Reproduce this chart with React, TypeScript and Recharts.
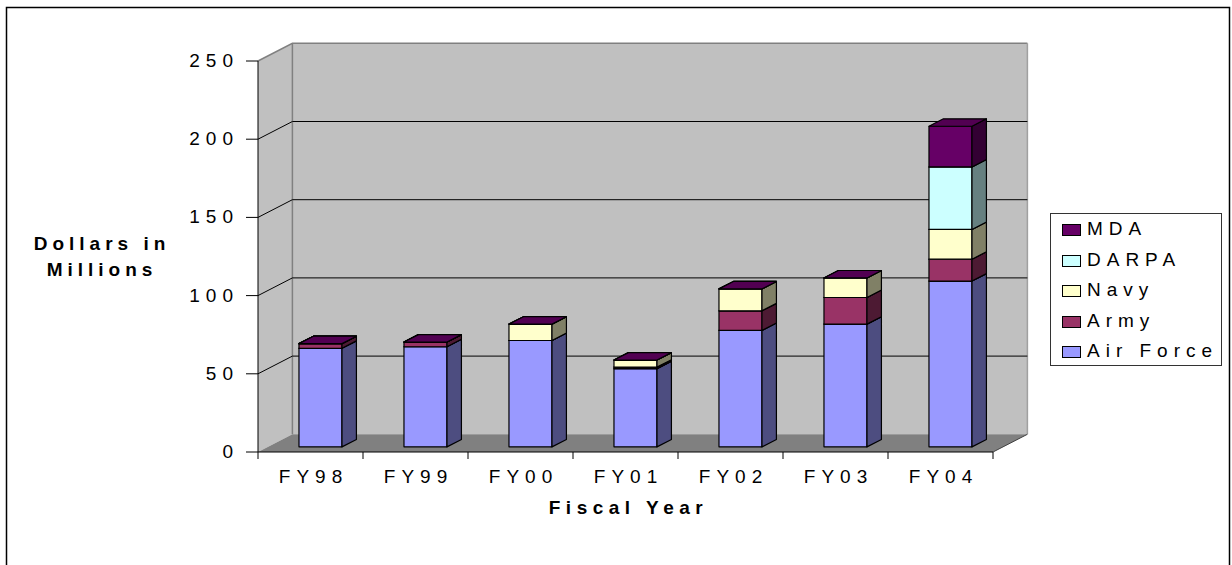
import React from 'react';
import { BarChart, Bar, XAxis, YAxis, CartesianGrid, Legend } from 'recharts';

const years = ['FY98', 'FY99', 'FY00', 'FY01', 'FY02', 'FY03', 'FY04'];
const airForce = [63, 64, 68, 50, 74.5, 78.5, 106];
const army = [3, 3, 0, 1, 12.5, 17, 14];
const navy = [0, 0, 10.5, 4.5, 14, 12.5, 19];
const darpa = [0, 0, 0, 0, 0, 0, 40];
const mda = [0, 0, 0, 0, 0, 0, 26];
const yTicks = [0, 50, 100, 150, 200, 250];

const data = years.map((year, i) => ({
  year,
  airForce: airForce[i],
  army: army[i],
  navy: navy[i],
  darpa: darpa[i],
  mda: mda[i],
}));

// chart frame (front plane of the 3d box) and depth offset
const W = 1232;
const H = 565;
const PLOT = { left: 258, top: 61, right: 993, bottom: 452 };
const DX = 34.4;
const DY = -17.7;
const Z0 = 0.29;
const Z1 = 0.71;
const FONT = '"Liberation Sans", Arial, sans-serif';
const MDA_TOP = '#520052';

const SERIES = [
  { key: 'airForce', name: 'Air Force', front: '#9999FF', side: '#4D4D80' },
  { key: 'army', name: 'Army', front: '#993366', side: '#4D1A33' },
  { key: 'navy', name: 'Navy', front: '#FFFFCC', side: '#808066' },
  { key: 'darpa', name: 'DARPA', front: '#CCFFFF', side: '#668080' },
  { key: 'mda', name: 'MDA', front: '#660066', side: '#330033' },
];

const makeBox = (front: string, side: string) => (props: any) => {
  const { x, y, width, height } = props;
  if (x == null || y == null || !width) return <g />;
  const h = Math.max(0, height || 0);
  const ox = x + Z0 * DX;
  const oy = y + Z0 * DY;
  const dx = (Z1 - Z0) * DX;
  const dy = (Z1 - Z0) * DY;
  const w = width;
  const pts = (arr: number[][]) => arr.map((p) => p.join(',')).join(' ');
  return (
    <g stroke="#000" strokeWidth={1.2} strokeLinejoin="round">
      {h > 0 && <rect x={ox} y={oy} width={w} height={h} fill={front} />}
      {h > 0 && (
        <polygon
          points={pts([[ox + w, oy], [ox + w + dx, oy + dy], [ox + w + dx, oy + h + dy], [ox + w, oy + h]])}
          fill={side}
        />
      )}
      <polygon points={pts([[ox, oy], [ox + dx, oy + dy], [ox + w + dx, oy + dy], [ox + w, oy]])} fill={MDA_TOP} />
    </g>
  );
};

const GridLine = (props: any) => {
  const { y1 } = props;
  if (Math.abs(y1 - PLOT.bottom) < 1 || Math.abs(y1 - PLOT.top) < 1) return <g />;
  return (
    <g stroke="#000" strokeWidth={1}>
      <line x1={PLOT.left} y1={y1} x2={PLOT.left + DX} y2={y1 + DY} />
      <line x1={PLOT.left + DX} y1={y1 + DY} x2={PLOT.right + DX} y2={y1 + DY} />
    </g>
  );
};

const YTick = (props: any) => {
  const { y, payload } = props;
  return (
    <text x={PLOT.left - 19} y={y + 6} textAnchor="end" fontFamily={FONT} fontSize={19} letterSpacing={6} fill="#000">
      {payload.value}
    </text>
  );
};

const band = (PLOT.right - PLOT.left) / years.length;

const XTick = (props: any) => {
  const { x, payload, index } = props;
  return (
    <g>
      <line x1={x - band / 2} y1={PLOT.bottom} x2={x - band / 2} y2={PLOT.bottom + 7} stroke="#000" />
      {index === years.length - 1 && (
        <line x1={x + band / 2} y1={PLOT.bottom} x2={x + band / 2} y2={PLOT.bottom + 7} stroke="#000" />
      )}
      <text x={x + 3} y={483} textAnchor="middle" fontFamily={FONT} fontSize={19} letterSpacing={6} fill="#000">
        {payload.value}
      </text>
    </g>
  );
};

// legend lists the series top-down, last stacked first
const renderLegend = () => {
  const items = [...SERIES].reverse();
  return (
    <div
      style={{
        width: 172,
        height: 153,
        boxSizing: 'border-box',
        border: '1px solid #333',
        background: '#fff',
        position: 'relative',
      }}
    >
      {items.map((item, i) => (
        <div key={item.key} style={{ position: 'absolute', left: 0, top: i * 30.5, height: 30.5, width: '100%' }}>
          <div
            style={{
              position: 'absolute',
              left: 11,
              top: 10,
              width: 17,
              height: 10,
              background: item.front,
              border: '1px solid #000',
            }}
          />
          <div
            style={{
              position: 'absolute',
              left: 36,
              top: 3,
              fontFamily: FONT,
              fontSize: 19,
              letterSpacing: 6,
              lineHeight: '24px',
              color: '#000',
              whiteSpace: 'nowrap',
            }}
          >
            {item.name}
          </div>
        </div>
      ))}
    </div>
  );
};

const Walls = () => (
  <svg width={W} height={H} style={{ position: 'absolute', left: 0, top: 0 }}>
    <rect x={6.5} y={7.5} width={1223} height={H + 20} fill="#fff" stroke="#000" strokeWidth={1.5} />
    <polygon
      points={`${PLOT.left},${PLOT.bottom} ${PLOT.left},${PLOT.top} ${PLOT.left + DX},${PLOT.top + DY} ${PLOT.left + DX},${PLOT.bottom + DY}`}
      fill="#C0C0C0"
    />
    <rect x={PLOT.left + DX} y={PLOT.top + DY} width={PLOT.right - PLOT.left} height={PLOT.bottom - PLOT.top} fill="#C0C0C0" />
    <polygon
      points={`${PLOT.left},${PLOT.bottom} ${PLOT.right},${PLOT.bottom} ${PLOT.right + DX},${PLOT.bottom + DY} ${PLOT.left + DX},${PLOT.bottom + DY}`}
      fill="#808080"
    />
    <g stroke="#808080" strokeWidth={1.5} fill="none">
      <polyline
        points={`${PLOT.left},${PLOT.top} ${PLOT.left + DX},${PLOT.top + DY} ${PLOT.right + DX},${PLOT.top + DY}`}
      />
      <line x1={PLOT.left + DX} y1={PLOT.top + DY} x2={PLOT.left + DX} y2={PLOT.bottom + DY} />
    </g>
    <line x1={PLOT.right + DX} y1={PLOT.top + DY} x2={PLOT.right + DX} y2={PLOT.bottom + DY} stroke="#A0A0A0" strokeWidth={1.5} />
    <line x1={PLOT.right} y1={PLOT.bottom} x2={PLOT.right + DX} y2={PLOT.bottom + DY} stroke="#404040" strokeWidth={1} />
  </svg>
);

export default function App() {
  return (
    <div style={{ position: 'absolute', left: 0, top: 0, width: W, height: H, background: '#fff' }}>
      <Walls />
      <div style={{ position: 'absolute', left: 0, top: 0 }}>
        <BarChart
          width={W}
          height={H}
          data={data}
          margin={{ top: PLOT.top, right: W - PLOT.right, bottom: H - PLOT.bottom - 63, left: 0 }}
          barSize={43}
        >
          <CartesianGrid vertical={false} horizontal={GridLine as any} stroke="#000" />
          <XAxis
            dataKey="year"
            height={63}
            stroke="#000"
            tickLine={false}
            interval={0}
            tick={XTick}
            label={{
              content: () => (
                <text x={PLOT.left + (PLOT.right - PLOT.left) / 2 + 3} y={514} textAnchor="middle" fontFamily={FONT} fontSize={19} fontWeight="bold" letterSpacing={5.5} fill="#000">
                  Fiscal Year
                </text>
              ),
            }}
          />
          <YAxis
            width={PLOT.left}
            domain={[0, 250]}
            ticks={yTicks}
            stroke="#000"
            tickSize={12}
            tick={YTick}
            label={{
              content: () => (
                <text textAnchor="middle" fontFamily={FONT} fontSize={19} fontWeight="bold" letterSpacing={5} fill="#000">
                  <tspan x={102} y={250}>Dollars in</tspan>
                  <tspan x={102} y={276}>Millions</tspan>
                </text>
              ),
            }}
          />
          <Legend
            layout="vertical"
            align="center"
            verticalAlign="middle"
            content={renderLegend}
            wrapperStyle={{ left: 1050, top: 213, width: 172, height: 153 }}
          />
          {SERIES.map((s) => (
            <Bar
              key={s.key}
              dataKey={s.key}
              name={s.name}
              stackId="a"
              fill={s.front}
              shape={makeBox(s.front, s.side)}
              isAnimationActive={false}
            />
          ))}
        </BarChart>
      </div>
    </div>
  );
}
